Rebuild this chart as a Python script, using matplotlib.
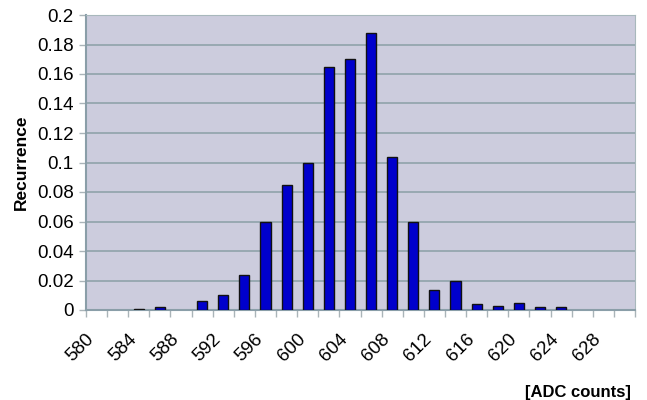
import numpy as np
import matplotlib.pyplot as plt
import matplotlib.transforms as mtransforms

# ADC bins (step 2) and measured recurrence
adc_bins = list(range(580, 632, 2))
recurrence = [0, 0, 0.001, 0.002, 0, 0.006, 0.010, 0.024, 0.060, 0.085,
              0.100, 0.165, 0.170, 0.188, 0.104, 0.060, 0.0135, 0.020,
              0.004, 0.003, 0.005, 0.002, 0.002, 0, 0, 0]
y_ticks = [0, 0.02, 0.04, 0.06, 0.08, 0.1, 0.12, 0.14, 0.16, 0.18, 0.2]
y_tick_labels = ['0', '0.02', '0.04', '0.06', '0.08', '0.1', '0.12',
                 '0.14', '0.16', '0.18', '0.2']

plt.rcParams['font.family'] = ['Liberation Sans', 'DejaVu Sans']

fig = plt.figure(figsize=(6.47, 4.0), dpi=100)
ax = fig.add_axes([86 / 647, 90 / 400, 549 / 647, 295 / 400])

pos = np.arange(len(adc_bins)) + 0.5
vals = np.array(recurrence)
keep = vals > 0  # Excel draws nothing for empty bins
ax.bar(pos[keep], vals[keep], width=0.48, color='#0000CC',
       edgecolor='#111111', linewidth=1.0, zorder=3)

ax.set_facecolor('#CCCCDD')
ax.set_xlim(0, len(adc_bins))
ax.set_ylim(0, 0.2)

ax.set_yticks(y_ticks)
ax.set_yticklabels(y_tick_labels, fontsize=13.5)
ax.yaxis.grid(True, color='#8FA3AA', linewidth=1.2, zorder=1)

# category boundaries as tick marks, labels every other category
ax.set_xticks(np.arange(len(adc_bins) + 1), minor=False)
ax.set_xticklabels([])
ax.set_xticks(pos[::2], minor=True)
ax.set_xticklabels([str(b) for b in adc_bins[::2]], minor=True,
                   rotation=45, ha='right', va='center',
                   rotation_mode='anchor', fontsize=13.5)
ax.tick_params(axis='x', which='minor', length=0, pad=19)
ax.tick_params(axis='x', which='major', length=5, color='#AAB4B8', width=1)
ax.tick_params(axis='y', length=5, color='#AAB4B8', width=1, pad=4)

# nudge the slanted labels a little to the left, like Excel does
shift = mtransforms.ScaledTranslation(-5 / 100, 0, fig.dpi_scale_trans)
for lbl in ax.get_xticklabels(minor=True):
    lbl.set_transform(lbl.get_transform() + shift)

for side in ['top', 'right']:
    ax.spines[side].set_color('#A8B8BC')
for side in ['left', 'bottom']:
    ax.spines[side].set_color('#8A9EA8')
    ax.spines[side].set_linewidth(1.5)

fig.text(21 / 647, 1 - 162 / 400, 'Recurrence', rotation=90, fontsize=12.5,
         fontweight='bold', ha='center', va='center')
fig.text(631 / 647, 1 - 392 / 400, '[ADC counts]', fontsize=12,
         fontweight='bold', ha='right', va='center')

fig.savefig('out.png', dpi=100)
